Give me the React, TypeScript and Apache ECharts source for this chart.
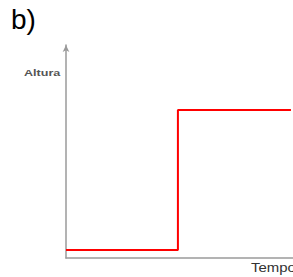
import React, { useEffect, useRef } from "react";
import * as echarts from "echarts";

const timeValues = [0, 49.3, 49.3, 99.1];
const heightValues = [3.8, 3.8, 69.5, 69.5];
const panelLabel = "b)";
const yAxisTitle = "Altura";
const xAxisTitle = "Tempo";

export default function App() {
  const ref = useRef<HTMLDivElement>(null);
  useEffect(() => {
    if (!ref.current) return;
    const chart = echarts.init(ref.current, null, { renderer: "svg" });
    chart.setOption({
      animation: false,
      backgroundColor: "#ffffff",
      grid: { left: 66, top: 45, width: 227, height: 213 },
      xAxis: {
        type: "value",
        min: 0,
        max: 100,
        axisLine: { show: true, lineStyle: { color: "#9a9a9a", width: 1.5 } },
        axisTick: { show: false },
        axisLabel: { show: false },
        splitLine: { show: false },
      },
      yAxis: {
        type: "value",
        min: 0,
        max: 100,
        axisLine: {
          show: true,
          symbol: ["none", "arrow"],
          symbolSize: [5, 7],
          lineStyle: { color: "#9a9a9a", width: 1.5 },
        },
        axisTick: { show: false },
        axisLabel: { show: false },
        splitLine: { show: false },
      },
      graphic: [
        {
          type: "text",
          left: 11,
          top: 5,
          style: { text: panelLabel, font: "28px 'Liberation Sans', Arial, sans-serif", fill: "#000" },
        },
        {
          type: "text",
          x: 24,
          y: 73,
          scaleX: 1.4,
          style: {
            text: yAxisTitle,
            x: 0,
            y: 0,
            verticalAlign: "middle",
            font: "bold 9px 'Liberation Sans', Arial, sans-serif",
            fill: "#555",
          },
        },
        {
          type: "text",
          x: 251,
          y: 267,
          scaleX: 1.15,
          style: {
            text: xAxisTitle,
            x: 0,
            y: 0,
            verticalAlign: "middle",
            font: "13px 'Liberation Sans', Arial, sans-serif",
            fill: "#333",
          },
        },
      ],
      series: [
        {
          type: "line",
          data: timeValues.map((t, i) => [t, heightValues[i]]),
          symbol: "none",
          lineStyle: { color: "#ff0000", width: 2 },
        },
      ],
    });
    return () => chart.dispose();
  }, []);
  return <div ref={ref} style={{ position: "absolute", left: 0, top: 0, width: 293, height: 277 }} />;
}
